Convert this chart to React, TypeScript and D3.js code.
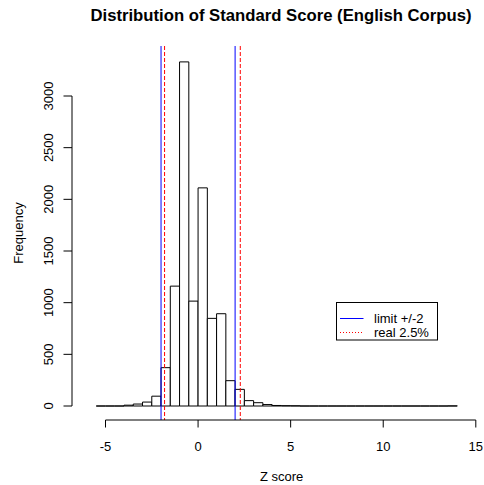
import React from "react";
import * as d3 from "d3";

const binStarts = [-5.5,-5,-4.5,-4,-3.5,-3,-2.5,-2,-1.5,-1,-0.5,0,0.5,1,1.5,2,2.5,3,3.5,4,4.5,5,5.5,6,6.5,7,7.5,8,8.5,9,9.5,10,10.5,11,11.5,12,12.5,13,13.5];
const counts = [0,0,0,8,19,38,95,371,1160,3330,1015,2111,848,893,245,161,52,32,14,5,3,2,0,0,0,0,0,0,0,0,0,0,0,0,0,0,0,0,1];
const binWidth = 0.5;
const xTicks = [-5, 0, 5, 10, 15];
const yTicks = [0, 500, 1000, 1500, 2000, 2500, 3000];
const limitLines = [-2, 2];
const realLines = [-1.81, 2.28];
const legendLabels = ["limit +/-2", "real 2.5%"];
const title = "Distribution of Standard Score (English Corpus)";

export default function App() {
  const W = 484, H = 485;
  const x = d3.scaleLinear().domain([-5, 15]).range([105.5, 475.8]);
  const y = d3.scaleLinear().domain([0, 3000]).range([406, 96]);
  const plotTop = 46, plotBottom = 420, plotLeft = 72;
  const font = "'Liberation Sans', Arial, sans-serif";

  const binPath = (s: number, c: number) => {
    const x0 = x(s), x1 = x(s + binWidth), y0 = y(0), y1 = y(c);
    return `M${x0},${y0}V${y1}H${x1}V${y0}Z`;
  };

  return (
    <svg width={W} height={H} style={{ position: "absolute", left: 0, top: 0, background: "#fff" }}>
      <rect x={0} y={0} width={W} height={H} fill="#fff" />
      <text x={281} y={20.5} textAnchor="middle" fontFamily={font} fontWeight="bold" fontSize={16.7}>{title}</text>
      {binStarts.map((s, i) => (
        <path key={i} d={binPath(s, counts[i])} fill="#fff" stroke="#000" strokeWidth={1} />
      ))}
      {limitLines.map((v, i) => (
        <line key={"b" + i} x1={x(v)} x2={x(v)} y1={plotTop} y2={plotBottom} stroke="#0000ff" strokeWidth={1} />
      ))}
      {realLines.map((v, i) => (
        <line key={"r" + i} x1={x(v)} x2={x(v)} y1={plotTop} y2={plotBottom} stroke="#ff0000" strokeWidth={1} strokeDasharray="4,2" />
      ))}
      {/* x axis */}
      <line x1={x(xTicks[0])} x2={x(xTicks[xTicks.length - 1])} y1={plotBottom} y2={plotBottom} stroke="#000" />
      {xTicks.map((t) => (
        <g key={"xt" + t}>
          <line x1={x(t)} x2={x(t)} y1={plotBottom} y2={plotBottom + 7.5} stroke="#000" />
          <text x={x(t)} y={450.5} textAnchor="middle" fontFamily={font} fontSize={13}>{t}</text>
        </g>
      ))}
      <text x={(105.5 + 475.8) / 2 - 9} y={481} textAnchor="middle" fontFamily={font} fontSize={13}>Z score</text>
      {/* y axis */}
      <line x1={plotLeft} x2={plotLeft} y1={y(0)} y2={y(3000)} stroke="#000" />
      {yTicks.map((t) => (
        <g key={"yt" + t}>
          <line x1={plotLeft - 8.5} x2={plotLeft} y1={y(t)} y2={y(t)} stroke="#000" />
          <text transform={`translate(53,${y(t)}) rotate(-90)`} textAnchor="middle" fontFamily={font} fontSize={13}>{t}</text>
        </g>
      ))}
      <text transform={`translate(23,${(plotTop + plotBottom) / 2}) rotate(-90)`} textAnchor="middle" fontFamily={font} fontSize={13}>Frequency</text>
      {/* legend */}
      <rect x={336.5} y={302.5} width={101} height={37.5} fill="#fff" stroke="#000" />
      <line x1={340} x2={363.5} y1={318.5} y2={318.5} stroke="#0000ff" />
      <line x1={340} x2={363.5} y1={332.5} y2={332.5} stroke="#ff0000" strokeDasharray="1,2" />
      <text x={374} y={322.5} fontFamily={font} fontSize={13}>{legendLabels[0]}</text>
      <text x={374} y={336.5} fontFamily={font} fontSize={13}>{legendLabels[1]}</text>
    </svg>
  );
}
